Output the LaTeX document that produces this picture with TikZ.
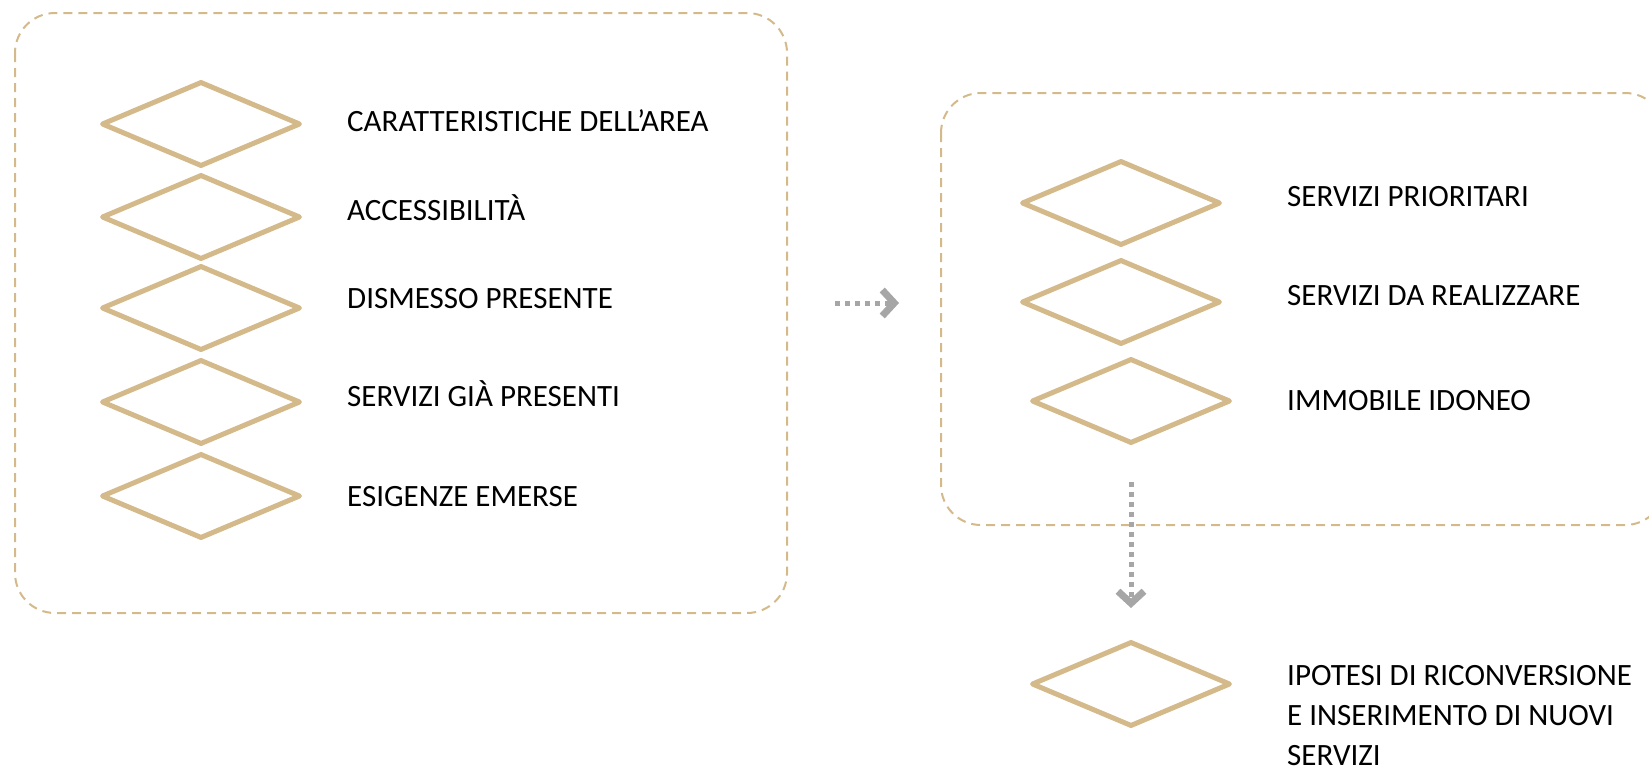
\documentclass[tikz,border=0pt]{standalone}
\usepackage{fontspec}
\setmainfont{Carlito}
\usepackage{tikz}
\usetikzlibrary{positioning}
\usetikzlibrary{shapes.geometric,arrows.meta}
\definecolor{sabbia}{HTML}{D4B98A}
\definecolor{grigio}{HTML}{A6A6A6}

\begin{document}
\begin{tikzpicture}[x=1pt,y=-1pt,
	rombo/.style={diamond, draw=sabbia, line width=5pt, line join=round, minimum width=199pt, minimum height=85pt, inner sep=0pt},
	voce/.style={anchor=west, font=\fontsize{31}{40}\selectfont, align=left, inner sep=0pt},
	cornice/.style={draw=sabbia, line width=2pt, dash pattern=on 9pt off 6pt, rounded corners=40pt},
	freccia/.style={draw=grigio, line width=5pt, dash pattern=on 5pt off 5pt, -{Straight Barb[length=12pt,width=26pt,line width=7pt]}}]
	\useasboundingbox (0,0) rectangle (1649,771);
	% Analisi dell'area
	\draw[cornice] (15,13) rectangle (787,613);
	\node[rombo] (area) at (201,124) {};
	\node[rombo] (acc) at (201,217) {};
	\node[rombo] (dism) at (201,308) {};
	\node[rombo] (serv) at (201,402) {};
	\node[rombo] (esig) at (201,496) {};
	\node[voce] (t-area) at (347,121) {CARATTERISTICHE DELL’AREA};
	\node[voce] (t-acc) at (347,208) {ACCESSIBILITÀ};
	\node[voce] (t-dism) at (347,299) {DISMESSO PRESENTE};
	\node[voce] (t-serv) at (347,394) {SERVIZI GIÀ PRESENTI};
	\node[voce] (t-esig) at (347,497) {ESIGENZE EMERSE};
	% Scelte
	\draw[cornice] (941,93) rectangle (1665,525);
	\node[rombo] (prio) at (1121,203) {};
	\node[rombo] (real) at (1121,302) {};
	\node[rombo] (imm) at (1131,401) {};
	\node[voce] (t-prio) at (1287,197) {SERVIZI PRIORITARI};
	\node[voce] (t-real) at (1287,296) {SERVIZI DA REALIZZARE};
	\node[voce] (t-imm) at (1287,401) {IMMOBILE IDONEO};
	% Ipotesi finale
	\node[voce] (t-ipo) at (1287,716) {IPOTESI DI RICONVERSIONE\\E INSERIMENTO DI NUOVI\\SERVIZI};
	\node[rombo] (ipo) at (1131,684) {};
	% frecce
	\coordinate (h1) at (835,303);
	\coordinate (h2) at (899,303);
	\coordinate (v1) at (1131,482);
	\draw[freccia] (h1) -- (h2);
	\draw[freccia, shorten >=31pt] (v1) -- (ipo.north);
\end{tikzpicture}
\end{document}
